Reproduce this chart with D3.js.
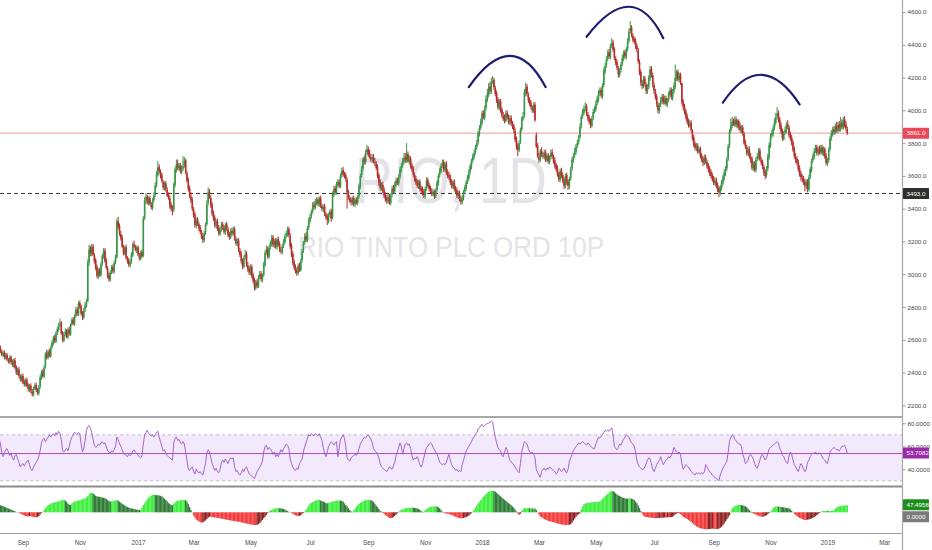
<!DOCTYPE html>
<html><head><meta charset="utf-8">
<script src="https://cdn.jsdelivr.net/npm/d3@7"></script>
<style>
html,body{margin:0;padding:0;background:#fff;}
svg{display:block;font-family:"Liberation Sans",Arial,sans-serif;}
</style></head><body>
<svg id="c" width="932" height="550"></svg>
<script>
// ---------- DATA ----------
const firstBarDate = "2016-08-08";
const opens = [
2530,2550,2525,2505,2525,2490,2510,2475,2465,2495, 2460,2445,2475,2435,2395,2420,2375,2355,2380,2345,
2325,2355,2325,2295,2320,2285,2265,2305,2325,2290, 2275,2315,2365,2405,2375,2435,2515,2490,2530,2500,
2555,2575,2615,2590,2645,2660,2695,2705,2645,2595, 2635,2655,2615,2665,2635,2695,2725,2695,2745,2785,
2755,2825,2805,2765,2735,2785,2805,2835,3070,3160, 3125,3170,3115,3085,3045,2985,3025,2995,3065,3105,
3145,3085,3035,2995,2965,3015,3045,3015,3075,3105, 3325,3295,3245,3225,3165,3125,3165,3095,3085,3055,
3080,3115,3185,3165,3145,3165,3115,3095,3135,3115, 3345,3455,3475,3435,3465,3425,3405,3455,3485,3545,
3605,3655,3625,3605,3565,3525,3555,3515,3485,3465, 3425,3395,3395,3545,3635,3675,3645,3665,3625,3645,
3665,3695,3615,3575,3525,3475,3455,3395,3365,3295, 3335,3305,3285,3255,3235,3205,3255,3305,3435,3505,
3465,3425,3375,3345,3295,3325,3285,3245,3275,3305, 3285,3255,3305,3275,3245,3225,3265,3245,3275,3215,
3185,3205,3145,3125,3075,3045,3105,3125,3055,3035, 3005,3045,2995,2965,2915,2955,2925,2985,3005,2965,
2995,3055,3135,3155,3105,3165,3185,3225,3175,3205, 3165,3215,3185,3145,3135,3175,3195,3235,3245,3275,
3235,3175,3125,3075,3045,3025,3005,3055,3025,3085, 3145,3195,3235,3205,3285,3325,3355,3385,3425,3405,
3435,3455,3425,3465,3415,3395,3415,3365,3355,3325, 3365,3385,3345,3485,3525,3495,3545,3565,3535,3605,
3635,3605,3605,3575,3505,3465,3455,3435,3465,3425, 3455,3435,3475,3535,3605,3645,3705,3685,3745,3765,
3735,3715,3695,3715,3685,3675,3655,3605,3565,3525, 3545,3515,3485,3465,3445,3475,3435,3485,3525,3505,
3545,3575,3555,3595,3635,3665,3685,3715,3695,3735, 3685,3705,3665,3645,3605,3585,3565,3535,3565,3525,
3515,3505,3475,3525,3575,3545,3525,3505,3485,3505, 3475,3515,3555,3605,3625,3665,3685,3635,3675,3625,
3605,3595,3565,3535,3565,3515,3515,3475,3495,3455, 3445,3465,3505,3525,3565,3585,3625,3655,3695,3715,
3745,3775,3805,3855,3895,3925,3985,3955,4015,4065, 4095,4145,4115,4175,4185,4135,4105,4065,4015,4055,
4005,3965,3955,3935,3985,3955,3925,3955,3915,3905, 3875,3825,3785,3755,3805,3885,3945,3965,4105,4145,
4095,4065,4045,4015,3995,4035,3850,3785,3715,3695, 3755,3725,3715,3745,3695,3725,3685,3715,3745,3715,
3695,3665,3645,3615,3575,3635,3605,3575,3535,3605, 3565,3535,3585,3645,3695,3725,3745,3785,3805,3835,
3905,3965,3985,4015,4025,3975,3955,3935,3905,3955, 3995,4005,4045,4065,4105,4125,4085,4155,4235,4275,
4315,4355,4325,4395,4415,4375,4315,4295,4255,4215, 4245,4285,4315,4355,4325,4375,4425,4485,4505,4455,
4435,4425,4395,4365,4295,4235,4165,4145,4195,4155, 4115,4145,4195,4255,4215,4155,4115,4085,4035,3995,
4035,4055,4085,4045,4075,4035,4065,4095,4125,4075, 4115,4145,4195,4235,4185,4215,4165,4055,4025,3995,
3965,3935,3905,3925,3875,3835,3795,3765,3785,3745, 3765,3725,3705,3675,3715,3685,3665,3645,3625,3605,
3585,3555,3575,3545,3525,3495,3525,3555,3585,3615, 3645,3705,3785,3875,3905,3935,3915,3945,3905,3935,
3905,3875,3895,3855,3805,3775,3735,3765,3715,3705, 3645,3675,3635,3705,3715,3755,3695,3685,3655,3625,
3605,3645,3715,3785,3845,3855,3895,3925,3965,3985, 3945,3905,3875,3825,3865,3875,3915,3895,3855,3835,
3805,3765,3715,3705,3685,3645,3615,3585,3585,3565, 3535,3565,3515,3595,3635,3695,3715,3755,3775,3735,
3765,3745,3775,3735,3765,3725,3675,3695,3765,3835, 3855,3885,3865,3905,3875,3915,3885,3925,3895,3945,
3915,3885];
const highs = [
2560,2565,2540,2535,2535,2520,2520,2490,2505,2505, 2480,2485,2490,2445,2430,2435,2390,2390,2395,2360,
2365,2370,2335,2330,2335,2300,2315,2335,2340,2305, 2325,2385,2415,2420,2445,2525,2540,2540,2545,2565,
2595,2625,2630,2655,2680,2705,2730,2715,2655,2645, 2670,2665,2675,2680,2700,2735,2740,2755,2800,2800,
2835,2840,2815,2775,2795,2830,2850,3090,3180,3175, 3185,3185,3130,3100,3060,3035,3040,3075,3125,3160,
3160,3100,3050,3010,3025,3055,3060,3085,3120,3340, 3350,3310,3265,3240,3180,3175,3180,3110,3100,3090,
3135,3195,3205,3180,3175,3175,3130,3145,3150,3355, 3470,3495,3485,3475,3480,3440,3465,3500,3560,3630,
3690,3670,3640,3620,3575,3565,3570,3530,3500,3480, 3440,3420,3560,3655,3700,3700,3680,3680,3665,3720,
3715,3705,3630,3590,3540,3500,3470,3410,3380,3345, 3350,3320,3300,3270,3250,3265,3315,3450,3530,3520,
3480,3440,3390,3360,3335,3340,3300,3285,3320,3320, 3300,3315,3320,3290,3260,3280,3285,3290,3290,3230,
3220,3220,3160,3140,3095,3115,3150,3140,3075,3050, 3060,3060,3010,2980,2965,2970,2995,3020,3020,3005,
3075,3145,3175,3170,3175,3205,3240,3240,3215,3220, 3225,3230,3200,3165,3185,3215,3245,3265,3290,3290,
3250,3190,3140,3090,3060,3040,3065,3070,3095,3155, 3205,3250,3255,3295,3345,3370,3395,3440,3445,3460,
3470,3470,3475,3480,3430,3425,3430,3380,3370,3375, 3395,3400,3505,3540,3540,3565,3580,3580,3615,3650,
3655,3625,3620,3590,3515,3480,3470,3475,3480,3465, 3470,3485,3555,3615,3660,3715,3725,3760,3790,3780,
3760,3735,3730,3735,3710,3690,3670,3620,3580,3560, 3565,3530,3500,3480,3490,3490,3495,3540,3545,3565,
3590,3590,3610,3655,3680,3710,3740,3740,3800,3750, 3725,3720,3680,3660,3620,3600,3580,3575,3580,3540,
3535,3520,3535,3590,3590,3560,3540,3525,3520,3515, 3525,3575,3615,3650,3675,3700,3700,3685,3690,3640,
3625,3610,3580,3575,3580,3540,3530,3510,3510,3475, 3485,3515,3545,3575,3605,3640,3675,3705,3735,3760,
3790,3820,3875,3910,3950,4000,4000,4030,4090,4130, 4165,4175,4200,4210,4200,4150,4120,4080,4070,4070,
4020,3990,3975,4000,4000,3975,3970,3970,3935,3920, 3890,3840,3800,3815,3895,3965,3990,4130,4170,4160,
4110,4080,4060,4030,4050,4050,3865,3800,3740,3765, 3775,3745,3760,3760,3735,3740,3725,3760,3765,3730,
3715,3680,3665,3625,3645,3650,3620,3590,3615,3620, 3580,3595,3655,3715,3740,3770,3795,3820,3850,3920,
3975,4010,4030,4050,4040,3990,3970,3950,3965,4010, 4025,4060,4090,4125,4140,4140,4165,4260,4290,4330,
4370,4375,4405,4440,4430,4385,4330,4310,4270,4260, 4295,4340,4365,4370,4385,4440,4500,4545,4520,4470,
4450,4440,4410,4380,4310,4250,4185,4210,4210,4170, 4160,4215,4270,4270,4230,4170,4130,4100,4050,4045,
4080,4100,4100,4090,4090,4075,4115,4140,4140,4130, 4170,4280,4245,4250,4230,4230,4170,4070,4040,4010,
3980,3950,3940,3940,3885,3850,3810,3800,3800,3775, 3780,3740,3720,3730,3730,3700,3680,3660,3640,3620,
3600,3590,3590,3560,3535,3545,3575,3605,3640,3660, 3715,3795,3885,3950,3960,3950,3965,3960,3945,3945,
3925,3910,3910,3870,3820,3790,3780,3780,3740,3720, 3690,3690,3715,3740,3770,3770,3715,3700,3670,3640,
3660,3735,3805,3860,3880,3910,3950,3985,4020,4000, 3960,3925,3890,3875,3900,3930,3940,3910,3870,3850,
3820,3780,3740,3720,3700,3665,3630,3610,3600,3580, 3580,3580,3605,3655,3705,3735,3770,3790,3790,3780,
3785,3790,3790,3780,3775,3740,3710,3775,3845,3880, 3900,3905,3920,3930,3930,3935,3960,3945,3960,3965,
3935,3900];
const lows = [
2520,2520,2500,2495,2480,2480,2470,2455,2455,2450, 2435,2430,2420,2385,2385,2370,2345,2345,2330,2315,
2315,2310,2285,2280,2275,2255,2255,2295,2280,2265, 2260,2300,2355,2370,2365,2425,2480,2480,2495,2490,
2545,2565,2580,2580,2630,2650,2680,2630,2585,2585, 2620,2610,2605,2625,2625,2685,2690,2685,2735,2745,
2745,2790,2750,2720,2725,2770,2795,2830,3050,3110, 3110,3110,3065,3025,2975,2970,2985,2985,3050,3095,
3070,3030,2975,2955,2955,3000,3005,3005,3060,3095, 3275,3235,3205,3160,3115,3115,3090,3065,3045,3040,
3065,3105,3160,3140,3130,3110,3085,3085,3100,3105, 3330,3430,3425,3420,3420,3395,3390,3440,3470,3530,
3595,3615,3585,3560,3515,3510,3505,3470,3455,3400, 3385,3360,3380,3530,3620,3635,3630,3615,3610,3630,
3650,3610,3560,3505,3465,3435,3385,3345,3285,3280, 3295,3265,3245,3215,3190,3195,3240,3295,3420,3460,
3405,3355,3325,3285,3280,3265,3235,3235,3260,3270, 3245,3240,3265,3225,3210,3215,3235,3235,3205,3175,
3170,3135,3105,3065,3030,3035,3090,3045,3015,2995, 2995,2975,2945,2900,2905,2915,2915,2970,2955,2950,
2985,3045,3120,3095,3095,3150,3170,3165,3160,3155, 3150,3170,3135,3125,3120,3160,3185,3220,3230,3225,
3155,3105,3055,3025,3005,2990,2995,3015,3015,3070, 3130,3180,3195,3195,3270,3310,3340,3370,3395,3395,
3420,3415,3410,3405,3385,3380,3355,3335,3300,3310, 3350,3320,3335,3470,3485,3485,3530,3525,3525,3590,
3595,3585,3565,3400,3455,3435,3420,3420,3415,3410, 3425,3420,3460,3520,3590,3630,3670,3670,3730,3715,
3705,3685,3680,3675,3660,3635,3585,3540,3510,3510, 3495,3465,3445,3430,3430,3425,3420,3470,3495,3490,
3530,3545,3540,3580,3620,3650,3670,3680,3680,3680, 3670,3645,3625,3595,3565,3545,3525,3520,3505,3495,
3480,3465,3460,3510,3530,3505,3495,3475,3475,3460, 3465,3500,3540,3590,3615,3650,3625,3625,3605,3585,
3575,3545,3525,3520,3505,3495,3465,3460,3445,3425, 3425,3450,3490,3510,3550,3570,3610,3640,3680,3700,
3730,3760,3790,3840,3880,3910,3945,3940,4000,4050, 4080,4100,4100,4160,4125,4085,4045,4005,4000,3985,
3955,3935,3920,3925,3945,3915,3910,3905,3885,3860, 3805,3760,3720,3745,3795,3870,3935,3955,4085,4085,
4045,4025,4005,3985,3985,3930,3770,3710,3680,3685, 3715,3705,3700,3685,3685,3675,3670,3700,3705,3675,
3645,3625,3595,3565,3560,3585,3555,3520,3525,3545, 3515,3520,3570,3630,3680,3710,3730,3770,3790,3825,
3890,3950,3970,3995,3965,3935,3915,3890,3895,3940, 3980,3990,4030,4050,4090,4075,4070,4140,4220,4260,
4300,4315,4310,4380,4355,4305,4275,4245,4200,4200, 4230,4270,4300,4315,4310,4360,4410,4470,4445,4415,
4405,4375,4355,4285,4215,4150,4130,4135,4145,4100, 4100,4130,4180,4200,4140,4100,4065,4020,3980,3980,
4020,4040,4035,4035,4025,4020,4050,4085,4065,4060, 4100,4130,4180,4175,4170,4155,4035,4000,3975,3945,
3915,3895,3895,3865,3815,3775,3755,3750,3735,3735, 3705,3685,3660,3665,3675,3645,3620,3600,3585,3565,
3545,3540,3525,3500,3470,3480,3510,3540,3570,3600, 3630,3690,3770,3860,3890,3905,3900,3895,3890,3880,
3865,3860,3845,3790,3765,3725,3720,3705,3680,3635, 3630,3625,3620,3690,3700,3690,3665,3640,3600,3580,
3590,3630,3700,3770,3830,3840,3880,3910,3950,3925, 3885,3855,3815,3815,3850,3860,3885,3835,3815,3785,
3745,3705,3680,3665,3625,3595,3570,3560,3545,3505, 3520,3500,3505,3580,3620,3680,3700,3740,3725,3720,
3730,3730,3725,3720,3705,3665,3660,3680,3750,3815, 3840,3850,3855,3865,3860,3870,3870,3885,3880,3895,
3875,3850];
const closes = [
2545,2530,2510,2520,2495,2505,2480,2470,2490,2465, 2450,2470,2430,2400,2415,2380,2360,2375,2340,2330,
2350,2320,2300,2315,2290,2270,2300,2320,2295,2280, 2310,2370,2400,2380,2430,2510,2495,2525,2505,2550,
2580,2610,2595,2640,2665,2690,2700,2640,2600,2630, 2650,2620,2660,2640,2690,2720,2700,2740,2780,2760,
2820,2800,2760,2740,2780,2810,2830,3070,3150,3130, 3165,3120,3080,3040,2990,3020,3000,3060,3110,3140,
3080,3040,2990,2970,3010,3040,3020,3070,3100,3320, 3290,3250,3220,3170,3130,3160,3100,3080,3060,3075,
3120,3180,3170,3150,3160,3120,3100,3130,3110,3340, 3450,3470,3440,3460,3430,3410,3450,3480,3540,3610,
3650,3630,3600,3570,3530,3550,3520,3480,3470,3420, 3400,3390,3550,3640,3670,3650,3660,3630,3650,3660,
3690,3620,3570,3520,3480,3450,3400,3360,3300,3330, 3310,3280,3260,3230,3210,3250,3300,3430,3500,3470,
3420,3370,3340,3300,3320,3280,3250,3270,3300,3290, 3260,3300,3280,3240,3230,3260,3250,3270,3220,3190,
3200,3150,3120,3080,3050,3100,3120,3060,3030,3010, 3040,2990,2960,2920,2950,2930,2980,3000,2970,2990,
3060,3130,3150,3110,3160,3190,3220,3180,3200,3170, 3210,3180,3150,3140,3170,3200,3230,3250,3270,3240,
3170,3120,3070,3040,3020,3010,3050,3030,3080,3140, 3190,3230,3210,3280,3330,3350,3380,3420,3410,3440,
3450,3430,3460,3420,3400,3410,3370,3350,3330,3360, 3380,3340,3490,3520,3500,3550,3560,3540,3600,3630,
3610,3600,3580,3500,3470,3450,3440,3460,3430,3450, 3440,3470,3540,3600,3640,3700,3690,3740,3760,3730,
3720,3700,3710,3690,3680,3650,3600,3560,3530,3540, 3510,3480,3460,3450,3470,3440,3480,3520,3510,3550,
3570,3560,3590,3640,3660,3690,3710,3700,3730,3690, 3700,3660,3640,3610,3580,3560,3540,3560,3520,3510,
3500,3480,3520,3570,3540,3520,3510,3490,3500,3480, 3510,3560,3600,3630,3660,3680,3640,3670,3620,3600,
3590,3560,3540,3560,3520,3510,3480,3490,3460,3440, 3470,3500,3530,3560,3590,3620,3660,3690,3720,3740,
3770,3800,3860,3890,3930,3980,3960,4010,4070,4100, 4140,4120,4170,4180,4140,4100,4060,4020,4050,4000,
3970,3950,3940,3980,3960,3930,3950,3920,3900,3880, 3820,3780,3760,3800,3880,3950,3960,4110,4140,4100,
4060,4040,4020,4000,4030,3940,3780,3720,3700,3750, 3730,3720,3740,3700,3720,3690,3710,3740,3720,3690,
3660,3640,3610,3580,3630,3600,3570,3540,3600,3560, 3540,3580,3640,3700,3720,3750,3780,3800,3830,3900,
3960,3990,4010,4020,3980,3950,3930,3910,3950,3990, 4000,4040,4070,4100,4120,4090,4150,4240,4270,4310,
4350,4330,4390,4410,4370,4320,4290,4260,4220,4240, 4280,4320,4350,4330,4370,4420,4480,4500,4460,4430,
4420,4390,4370,4300,4230,4170,4150,4190,4160,4120, 4140,4200,4250,4220,4160,4120,4080,4040,4000,4030,
4060,4080,4050,4070,4040,4060,4100,4120,4080,4110, 4150,4200,4230,4190,4210,4170,4050,4020,3990,3960,
3930,3910,3920,3880,3830,3790,3770,3780,3750,3760, 3720,3700,3680,3710,3690,3660,3640,3620,3600,3580,
3560,3570,3540,3520,3500,3530,3560,3590,3620,3640, 3700,3780,3870,3910,3930,3920,3940,3910,3930,3900,
3880,3890,3860,3800,3780,3740,3760,3720,3700,3650, 3670,3640,3700,3720,3750,3700,3680,3660,3620,3600,
3640,3720,3790,3840,3860,3890,3930,3960,3980,3940, 3900,3870,3830,3860,3880,3910,3900,3850,3830,3800,
3760,3720,3700,3680,3640,3610,3590,3580,3560,3540, 3560,3520,3590,3640,3690,3720,3750,3770,3740,3760,
3750,3770,3740,3760,3720,3680,3690,3760,3830,3860, 3880,3870,3900,3880,3910,3890,3920,3900,3940,3910,
3890,3861];
const rsi = [
67,62,55,51,54,57,58,55,52,54, 50,48,52,53,49,46,42,44,45,43, 45,47,48,44,40,39,42,44,46,48,
51,56,63,66,67,64,66,68,70,68, 70,71,69,72,70,73,71,66,56,55, 57,58,56,60,65,68,70,72,71,70,
72,71,62,55,58,65,74,77,78,76, 72,66,61,59,60,62,61,63,64,62, 63,60,56,55,54,56,55,57,60,68,
66,62,60,57,54,53,52,51,53,52, 53,56,57,55,54,52,51,50,52,62, 70,72,74,71,70,69,70,68,70,72,
73,68,64,60,56,57,54,52,51,50, 49,48,63,67,68,65,66,63,62,64, 62,55,48,40,39,41,42,38,36,40,
38,37,38,36,35,40,45,54,57,55, 50,45,42,39,41,38,37,40,46,48, 46,49,47,45,48,50,49,50,42,38,
39,36,35,37,40,38,41,42,39,36, 35,34,33,32,35,38,40,42,44,47, 55,60,61,57,59,58,56,53,55,51,
53,51,54,57,55,58,60,62,61,58, 49,45,42,40,39,41,40,45,47,49, 55,60,63,67,70,69,71,70,69,71,
70,69,71,68,65,59,54,51,55,60, 62,64,63,61,63,64,51,58,66,68, 70,67,60,50,48,47,50,51,52,53,
52,54,58,62,64,66,68,67,69,70, 68,66,63,58,56,55,53,50,45,42, 41,40,39,38,40,42,41,40,43,46,
52,55,59,63,60,53,58,62,63,61, 62,58,52,48,50,49,51,48,44,42, 45,50,55,59,60,62,63,62,59,57,
55,53,50,46,45,44,45,44,46,50, 53,48,44,42,41,39,40,38,39,38, 44,48,52,56,58,60,62,64,67,68,
70,72,75,76,78,79,77,78,79,80, 80,81,82,81,74,68,63,59,57,56, 52,51,55,59,57,52,48,47,45,44,
42,40,38,37,45,55,60,64,63,62, 58,55,54,55,53,50,40,37,35,33, 38,40,41,39,41,40,42,41,40,39,
38,36,37,41,40,38,39,41,38,37, 40,47,50,53,56,58,60,61,63,62, 63,64,63,62,61,63,62,60,59,58,
58,62,65,68,67,69,70,72,74,73, 74,73,75,76,70,60,58,57,59,62, 61,64,66,68,70,69,68,65,63,62,
60,55,48,44,42,41,40,40,42,45, 48,50,49,45,40,38,41,44,46,48, 51,47,44,46,48,49,51,50,52,55,
59,57,55,54,55,53,45,40,42,44, 43,42,40,38,37,36,35,37,36,37, 36,37,36,38,44,42,40,38,37,35,
34,33,32,31,30,35,38,41,43,45, 47,55,64,68,70,69,66,65,63,62, 62,60,53,50,45,46,48,52,53,51,
49,45,42,41,44,48,52,53,50,48, 50,54,58,59,60,61,62,63,64,63, 58,56,52,51,48,46,45,52,55,53,
48,44,42,40,38,42,45,43,40,38, 40,46,48,51,53,54,54,55,53,54, 54,53,51,49,48,46,45,50,55,57,
58,59,58,57,57,56,58,60,60,61, 58,53.7082];
const momentum = [
50,48,45,42,38,33,30,26,22,18, 14,10,7,3,0,-4,-8,-12,-18,-22, -25,-27,-28,-26,-27,-30,-31,-33,-34,-33,
-25,-15,-5,3,15,28,38,46,52,58, 62,65,68,70,72,75,78,80,83,84, 80,70,58,52,50,60,68,73,76,78,
80,82,85,88,92,95,98,110,122,130, 132,128,120,112,108,106,104,102,100,98, 96,90,82,76,73,74,76,78,80,84,
80,72,65,58,52,46,40,36,32,28, 26,24,22,20,18,17,16,18,30,50, 62,75,88,98,108,114,118,120,118,116,
115,114,112,108,100,92,84,74,64,56, 50,48,58,68,74,78,80,82,83,84, 84,82,72,55,35,15,0,-22,-35,-48,
-55,-62,-66,-70,-68,-62,-55,-45,-36,-30, -30,-32,-33,-35,-36,-38,-40,-41,-42,-45, -46,-48,-50,-52,-53,-55,-57,-58,-60,-62,
-63,-64,-66,-68,-70,-72,-74,-76,-78,-80, -82,-84,-85,-86,-86,-85,-80,-72,-62,-52, -40,-30,-18,-5,5,12,16,20,24,26,
27,28,27,26,25,22,18,13,8,3, 0,-5,-10,-15,-20,-23,-25,-24,-20,-10, -5,5,16,30,45,58,64,70,74,78,
82,84,84,80,76,73,68,62,61,64, 66,70,72,75,77,78,80,80,79,78, 72,60,48,40,28,15,5,3,12,25,
38,48,56,64,70,75,79,82,84,84, 84,82,78,70,58,45,35,22,10,5, -5,-10,-18,-25,-32,-38,-40,-38,-32,-24,
-15,-6,4,12,16,20,24,27,29,30, 30,31,32,31,30,28,26,22,16,8, 2,6,14,22,27,32,36,39,40,40,
40,38,34,26,15,5,-3,-7,-8,-10, -12,-15,-18,-22,-26,-30,-34,-37,-40,-40, -40,-38,-35,-32,-28,-22,-14,-6,5,18,
32,45,58,70,82,94,105,115,124,132, 138,142,145,146,145,140,133,124,116,108, 100,92,85,78,70,62,55,48,40,30,
18,5,-8,-18,-10,10,22,27,28,28, 28,27,27,26,26,25,15,0,-15,-28, -34,-40,-45,-50,-54,-58,-61,-63,-65,-67,
-70,-73,-76,-78,-80,-82,-84,-85,-86,-86, -86,-84,-80,-70,-56,-42,-30,-20,-12,-7, 20,40,55,60,62,64,65,66,68,69,
70,70,71,72,73,80,90,100,110,118, 125,132,140,145,143,138,128,120,115,110, 106,100,97,95,93,92,94,95,93,90,
84,72,62,45,28,8,-10,-22,-30,-32, -33,-35,-36,-37,-38,-39,-40,-40,-39,-38, -38,-37,-36,-35,-35,-34,-34,-33,-32,-30,
-22,-14,-8,-6,-7,-12,-22,-30,-35,-40, -45,-52,-58,-65,-72,-80,-88,-95,-100,-105, -108,-110,-112,-114,-115,-115,-114,-113,-112,-110,
-112,-113,-114,-113,-110,-105,-98,-88,-76,-62, -48,-35,-20,5,25,35,42,46,48,50, 50,49,47,44,40,34,25,15,5,-5,
-8,-12,-16,-20,-24,-27,-30,-30,-28,-24, -20,-12,-5,5,15,28,36,40,40,38, 38,36,35,33,31,30,28,27,20,10,
0,-10,-18,-25,-32,-38,-42,-46,-50,-52, -52,-50,-48,-45,-42,-38,-32,-26,-20,-12, -5,3,8,9,9,10,9,9,10,10,
10,15,25,33,38,41,43,44,45,46, 47,47.4958];

const priceTicks = [2200,2400,2600,2800,3000,3200,3400,3600,3800,4000,4200,4400,4600];
const rsiTicks = [40,60,80];
const rsiBands = [30,70];
const monthNames = ["Jan","Feb","Mar","Apr","May","Jun","Jul","Aug","Sep","Oct","Nov","Dec"];
const lastClose = 3861.0;
const supportLevel = 3493.0;
const rsiLast = 53.7082;
const momLast = 47.4958;
const titleText = "RIO, 1D";
const subtitleText = "RIO TINTO PLC ORD 10P";
// hand-drawn arcs: [bar index, price] for start, apex, end
const arcStarts = [[355,4142],[444,4449],[547,4047]];
const arcApexes = [[386,4332],[476,4632],[576,4217]];
const arcEnds   = [[413,4142],[502,4440],[605,4037]];

// ---------- LAYOUT ----------
const W = 932, H = 550;
const plotR = 902.5;
const mainTop = 0, mainBot = 416.5;
const rsiTop = 417.5, rsiBot = 486;
const momTop = 487.5, momBot = 533;

const svg = d3.select("#c");
const defs = svg.append("defs");
defs.append("clipPath").attr("id","cMain").append("rect").attr("x",0).attr("y",mainTop).attr("width",plotR).attr("height",mainBot-mainTop);
defs.append("clipPath").attr("id","cRsi").append("rect").attr("x",0).attr("y",rsiTop).attr("width",plotR).attr("height",rsiBot-rsiTop);
defs.append("clipPath").attr("id","cMom").append("rect").attr("x",0).attr("y",momTop).attr("width",plotR).attr("height",momBot-momTop);

// dates for bar index (weekdays)
const dates = [];
{ let d = d3.timeParse("%Y-%m-%d")(firstBarDate);
  while (dates.length < 700) { const wd = d.getDay(); if (wd!==0 && wd!==6) dates.push(d); d = d3.timeDay.offset(d,1); } }

const x = d3.scaleLinear().domain([0, 682]).range([-0.9, 901.5]);
const y = d3.scaleLinear().domain([2200, 4600]).range([405.4, 12]);
const yR = d3.scaleLinear().domain([40, 80]).range([469.3, 423.3]);
const yM = d3.scaleLinear().domain([0, momLast]).range([512.3, 505.3]);

const axisFont = 6.2, axisColor = "#4a4a4a";

// ---------- WATERMARK ----------
svg.append("text").attr("x",451).attr("y",203).attr("text-anchor","middle")
  .attr("font-size",64).attr("fill","#e4e4e8").attr("textLength",192).attr("lengthAdjust","spacingAndGlyphs")
  .text(titleText);
svg.append("text").attr("x",451).attr("y",257).attr("text-anchor","middle")
  .attr("font-size",30).attr("fill","#e4e4e8").attr("textLength",306).attr("lengthAdjust","spacingAndGlyphs")
  .text(subtitleText);

// ---------- MAIN PANE ----------
const gMain = svg.append("g").attr("clip-path","url(#cMain)");
gMain.append("line").attr("x1",0).attr("x2",plotR).attr("y1",y(lastClose)).attr("y2",y(lastClose))
  .attr("stroke","#f19a9a").attr("stroke-width",1);
gMain.append("line").attr("x1",0).attr("x2",plotR).attr("y1",y(supportLevel)).attr("y2",y(supportLevel))
  .attr("stroke","#333").attr("stroke-width",1).attr("stroke-dasharray","4,3");

const bars = closes.map((c,i)=>({i, o:opens[i], h:highs[i], l:lows[i], c}));
const upC = "#389646", dnC = "#b42e2c";
gMain.selectAll("line.wick").data(bars).join("line").attr("class","wick")
  .attr("x1", d=>x(d.i)).attr("x2", d=>x(d.i))
  .attr("y1", d=>y(Math.max(d.h,d.o,d.c))).attr("y2", d=>y(Math.min(d.l,d.o,d.c)))
  .attr("stroke", d=>d.c>=d.o?upC:dnC).attr("stroke-width",1);
gMain.selectAll("rect.body").data(bars).join("rect").attr("class","body")
  .attr("x", d=>x(d.i)-0.8).attr("width",1.6)
  .attr("y", d=>y(Math.max(d.o,d.c)))
  .attr("height", d=>Math.max(0.9, Math.abs(y(d.o)-y(d.c))))
  .attr("fill", d=>d.c>=d.o?upC:dnC);

// arcs
arcStarts.forEach((s,k)=>{
  const a = arcApexes[k], e = arcEnds[k];
  const p0=[x(s[0]),y(s[1])], p1=[x(a[0]),y(a[1])], p2=[x(e[0]),y(e[1])];
  const cx = 2*p1[0]-(p0[0]+p2[0])/2, cy = 2*p1[1]-(p0[1]+p2[1])/2;
  gMain.append("path").attr("d",`M${p0[0]},${p0[1]}Q${cx},${cy} ${p2[0]},${p2[1]}`)
    .attr("fill","none").attr("stroke","#1c1c72").attr("stroke-width",2.2).attr("stroke-linecap","round");
});

// ---------- RSI PANE ----------
const gR = svg.append("g").attr("clip-path","url(#cRsi)");
gR.append("rect").attr("x",0).attr("width",plotR).attr("y",yR(rsiBands[1])).attr("height",yR(rsiBands[0])-yR(rsiBands[1]))
  .attr("fill","#f3e9fc");
rsiBands.forEach(v=>gR.append("line").attr("x1",0).attr("x2",plotR).attr("y1",yR(v)).attr("y2",yR(v))
  .attr("stroke","#b9b0c4").attr("stroke-width",0.8).attr("stroke-dasharray","3,3"));
gR.append("line").attr("x1",0).attr("x2",plotR).attr("y1",yR(rsiLast)).attr("y2",yR(rsiLast))
  .attr("stroke","#b04ac0").attr("stroke-width",1);
gR.append("path").datum(rsi).attr("d", d3.line().x((d,i)=>x(i)).y(d=>yR(d)))
  .attr("fill","none").attr("stroke","#9c55c9").attr("stroke-width",0.9);

// ---------- MOMENTUM PANE ----------
const gM = svg.append("g").attr("clip-path","url(#cMom)");
gM.selectAll("rect").data(momentum).join("rect")
  .attr("x",(d,i)=>x(i)-0.7).attr("width",1.4)
  .attr("y", d=>yM(Math.max(d,0))).attr("height", d=>Math.abs(yM(d)-yM(0)))
  .attr("fill",(d,i)=>{
    const prev = i>0 ? momentum[i-1] : d;
    if (d>=0) return d>=prev ? "#3fee3f" : "#2f7d36";
    return d<=prev ? "#f23b3b" : "#8e2222";
  });

// ---------- FRAMES ----------
const frame = svg.append("g");
[[mainBot+0.5,"#8c8c8c",1.6],[rsiBot+0.5,"#8c8c8c",1.8],[momBot+0.5,"#a0a0a0",1.2]].forEach(([yy,c,w])=>
  frame.append("line").attr("x1",0).attr("x2",plotR).attr("y1",yy).attr("y2",yy).attr("stroke",c).attr("stroke-width",w));
frame.append("line").attr("x1",plotR).attr("x2",plotR).attr("y1",0).attr("y2",H).attr("stroke","#a8a8a8").attr("stroke-width",1.2);

// ---------- AXES ----------
function styleAxis(g){
  g.select(".domain").remove();
  g.selectAll(".tick line").attr("stroke","#999");
  g.selectAll("text").attr("font-size",axisFont).attr("fill",axisColor).attr("font-family","'Liberation Sans',Arial,sans-serif");
}
svg.append("g").attr("transform",`translate(${plotR},0)`)
  .call(d3.axisRight(y).tickValues(priceTicks).tickSize(3).tickPadding(2).tickFormat(d=>d.toFixed(1)))
  .call(styleAxis);
svg.append("g").attr("transform",`translate(${plotR},0)`)
  .call(d3.axisRight(yR).tickValues(rsiTicks).tickSize(3).tickPadding(2).tickFormat(d=>d.toFixed(4)))
  .call(styleAxis);

// x axis ticks at first trading day of Jan/Mar/May/Jul/Sep/Nov
const tickIdx = [];
for (let i=1;i<dates.length;i++){
  const m = dates[i].getMonth();
  if (m!==dates[i-1].getMonth() && m%2===0 && x(i)>4 && x(i)<plotR-4) tickIdx.push(i);
}
svg.append("g").attr("transform",`translate(0,${momBot})`)
  .call(d3.axisBottom(x).tickValues(tickIdx).tickSize(0).tickPadding(7.5)
    .tickFormat(i=>{ const d=dates[i]; return d.getMonth()===0 ? String(d.getFullYear()) : monthNames[d.getMonth()]; }))
  .call(styleAxis)
  .selectAll("text").attr("font-size",6.4);

// ---------- LAST VALUE LABELS ----------
function tag(yy, txt, bg){
  const g = svg.append("g");
  g.append("rect").attr("x",plotR+0.5).attr("y",yy-5.5).attr("width",W-plotR-3.5).attr("height",11).attr("fill",bg).attr("rx",0.5);
  g.append("text").attr("x",plotR+4).attr("y",yy+2.2).attr("font-size",axisFont).attr("fill","#fff").text(txt);
}
tag(y(lastClose), lastClose.toFixed(1), "#e9485a");
tag(y(supportLevel), supportLevel.toFixed(1), "#2f2f2f");
tag(yR(rsiLast)-0.5, rsiLast.toFixed(4), "#9a2aa8");
tag(yM(momLast)-0.5, momLast.toFixed(4), "#1e8f1e");
tag(yM(0)+4.5, (0).toFixed(4), "#7a7a7a");
</script>
</body></html>
